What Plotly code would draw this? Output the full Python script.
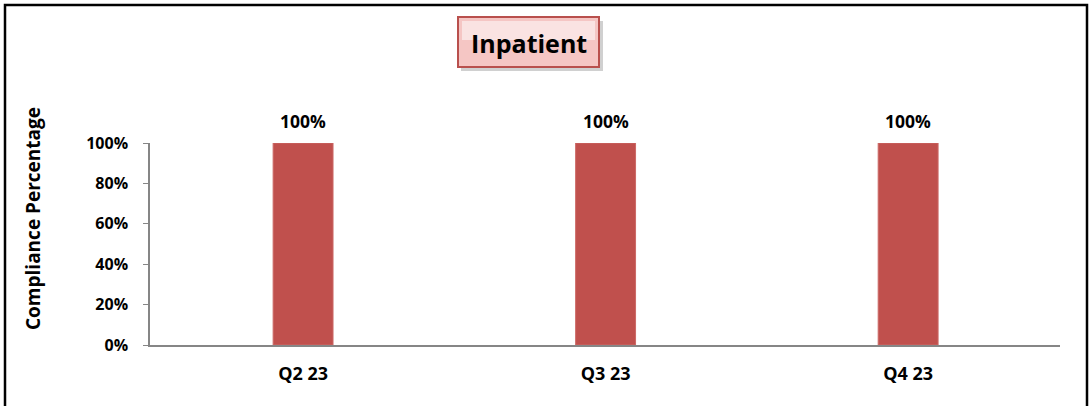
import plotly.graph_objects as go

categories = ["Q2 23", "Q3 23", "Q4 23"]
compliance = [1.0, 1.0, 1.0]
y_ticks = [0, 0.2, 0.4, 0.6, 0.8, 1.0]
y_tick_labels = ["0%", "20%", "40%", "60%", "80%", "100%"]
chart_title = "Inpatient"
y_title = "Compliance Percentage"

W, H = 1089, 406
L, R, T, B = 150, 29, 143, 61
pw, ph = W - L - R, H - T - B

def px_x(px):
    return (px - L) / pw

def px_y(py):
    return (H - B - py) / ph

FONT = "'Open Sans', Lato, sans-serif"

fig = go.Figure()
fig.add_trace(go.Bar(
    x=categories, y=compliance, width=0.198,
    marker=dict(color="#C0504D", line=dict(color="#CC6966", width=1)),
    showlegend=False, hoverinfo="x+y",
))

annotations = []
for c, v in zip(categories, compliance):
    annotations.append(dict(
        x=c, y=v, xref="x", yref="y", text=f"<b>{v*100:.0f}%</b>",
        showarrow=False, yanchor="bottom", yshift=8,
        font=dict(family=FONT, size=17.5, color="black"),
    ))

# y axis title
annotations.append(dict(
    x=px_x(33), y=px_y(219), xref="paper", yref="paper",
    text=f"<b>{y_title}</b>", textangle=-90, showarrow=False,
    xanchor="center", yanchor="middle",
    font=dict(family=FONT, size=19, color="black"),
))
# chart title
annotations.append(dict(
    x=px_x(529), y=px_y(43), xref="paper", yref="paper",
    text=f"<b>{chart_title}</b>", showarrow=False,
    xanchor="center", yanchor="middle",
    font=dict(family=FONT, size=25, color="black"),
))

shapes = [
    # outer frame
    dict(type="rect", xref="paper", yref="paper",
         x0=px_x(5), x1=px_x(1087), y0=px_y(410), y1=px_y(5),
         line=dict(color="black", width=2.5), fillcolor="rgba(0,0,0,0)", layer="above"),
    # title box shadow
    dict(type="rect", xref="paper", yref="paper",
         x0=px_x(461), x1=px_x(603), y0=px_y(71), y1=px_y(21),
         line=dict(width=0), fillcolor="rgba(120,120,120,0.35)", layer="below"),
    # title box
    dict(type="rect", xref="paper", yref="paper",
         x0=px_x(458), x1=px_x(599), y0=px_y(67), y1=px_y(17),
         line=dict(color="#B9504D", width=2), fillcolor="#F5C6C4", layer="below"),
    dict(type="rect", xref="paper", yref="paper",
         x0=px_x(462), x1=px_x(595), y0=px_y(40), y1=px_y(21),
         line=dict(width=0), fillcolor="rgba(255,255,255,0.5)", layer="below"),
]

fig.update_layout(
    width=W, height=H,
    margin=dict(l=L, r=R, t=T, b=B, autoexpand=False),
    paper_bgcolor="white", plot_bgcolor="white",
    annotations=annotations, shapes=shapes,
    font=dict(family=FONT, color="black"),
)
fig.update_xaxes(
    range=[-0.506, 2.502],
    tickvals=categories, ticktext=[f"<b>{c}</b>" for c in categories],
    showline=True, linecolor="#868686", linewidth=2,
    ticks="", showgrid=False, zeroline=False,
    tickfont=dict(family=FONT, size=18, color="black"),
    ticklabelstandoff=11,
)
fig.update_yaxes(
    range=[0, 1], tickvals=y_ticks, ticktext=[f"<b>{t}</b>" for t in y_tick_labels],
    showline=True, linecolor="#868686", linewidth=1.5,
    ticks="outside", ticklen=5, tickcolor="#868686",
    showgrid=False, zeroline=False,
    tickfont=dict(family=FONT, size=16, color="black"),
    ticklabelstandoff=12,
)

fig.write_html("out.html", config={"displayModeBar": False},
               post_script="document.body.style.margin='0';")
